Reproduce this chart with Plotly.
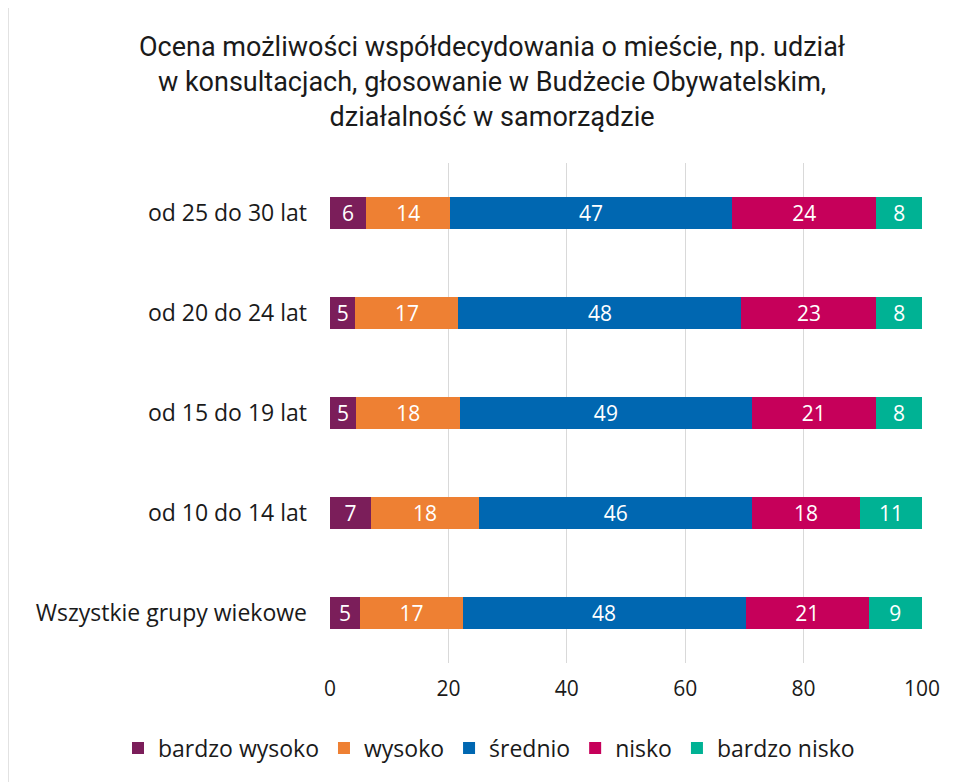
import plotly.graph_objects as go

categories = ["Wszystkie grupy wiekowe", "od 10 do 14 lat", "od 15 do 19 lat", "od 20 do 24 lat", "od 25 do 30 lat"]
series_names = ["bardzo wysoko", "wysoko", "średnio", "nisko", "bardzo nisko"]
colors = ["#7B1E5A", "#EE8033", "#0067B1", "#C6005A", "#00B294"]

bardzo_wysoko = [5.1, 6.9, 4.4, 4.3, 6.1]
wysoko = [17.3, 18.3, 17.6, 17.4, 14.2]
srednio = [47.8, 46.1, 49.2, 47.8, 47.6]
nisko = [20.8, 18.2, 21.0, 22.8, 24.4]
bardzo_nisko = [9.0, 10.5, 7.8, 7.7, 7.7]

labels_bardzo_wysoko = ["5", "7", "5", "5", "6"]
labels_wysoko = ["17", "18", "18", "17", "14"]
labels_srednio = ["48", "46", "49", "48", "47"]
labels_nisko = ["21", "18", "21", "23", "24"]
labels_bardzo_nisko = ["9", "11", "8", "8", "8"]

values = [bardzo_wysoko, wysoko, srednio, nisko, bardzo_nisko]
labels = [labels_bardzo_wysoko, labels_wysoko, labels_srednio, labels_nisko, labels_bardzo_nisko]

title_text = ("Ocena możliwości współdecydowania o mieście, np. udział<br>"
              "w konsultacjach, głosowanie w Budżecie Obywatelskim,<br>"
              "działalność w samorządzie")

font_main = "Open Sans, Roboto, sans-serif"
font_title = "Roboto, sans-serif"

# page body has an 8px margin, so the figure is offset by 8px
OFF = 8
W, H = 959 - OFF, 782 - OFF
ML, MR, MT, MB = 330 - OFF, 959 - 922, 163 - OFF, 782 - 663
PW, PH = W - ML - MR, H - MT - MB


def px_x(sx):
    return (sx - OFF - ML) / PW


def px_y(sy):
    return (H - MB - (sy - OFF)) / PH


fig = go.Figure()
for name, vals, txt, col in zip(series_names, values, labels, colors):
    fig.add_trace(go.Bar(
        y=categories, x=vals, name=name, orientation="h",
        marker=dict(color=col, line=dict(width=0)),
        text=txt, textposition="inside", insidetextanchor="middle",
        textangle=0, textfont=dict(color="white", size=21, family=font_main),
        hoverinfo="x+y+name",
    ))

fig.update_layout(
    barmode="stack",
    bargap=0.68,
    width=W, height=H,
    margin=dict(l=ML, r=MR, t=MT, b=MB, autoexpand=False),
    paper_bgcolor="white", plot_bgcolor="white",
    font=dict(family=font_main, size=20, color="#1a1a1a"),
    uniformtext=dict(minsize=20, mode="show"),
    legend=dict(orientation="h", xref="paper", yref="paper",
                x=px_x(118), xanchor="left", y=px_y(748), yanchor="middle",
                font=dict(family=font_main, size=23, color="#1a1a1a"),
                traceorder="normal", itemsizing="constant", itemwidth=30,
                tracegroupgap=0),
    xaxis=dict(range=[0, 100], dtick=20, showgrid=True, gridcolor="#d9d9d9", gridwidth=1,
               zeroline=False, showline=False, ticks="", tickfont=dict(size=21, color="#1a1a1a"),
               ticklabelstandoff=11, automargin=False, fixedrange=True),
    yaxis=dict(showgrid=False, zeroline=False, showline=False, ticks="",
               ticklabelstandoff=22, automargin=False,
               tickfont=dict(size=23, color="#1a1a1a"), fixedrange=True),
)
fig.add_annotation(text=title_text, xref="paper", yref="paper",
                   x=px_x(492), xanchor="center", y=px_y(82), yanchor="middle",
                   showarrow=False, align="center",
                   font=dict(family=font_title, size=27, color="#1a1a1a"))
fig.add_shape(type="line", xref="paper", yref="paper",
              x0=px_x(8), x1=px_x(8), y0=px_y(0), y1=px_y(790),
              line=dict(color="#d9d9d9", width=1.5))

fig.write_html("out.html")
